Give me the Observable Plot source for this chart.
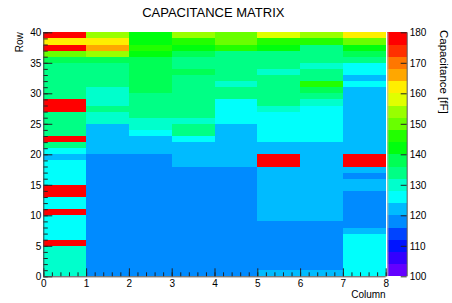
<!DOCTYPE html>
<html><head><meta charset="utf-8">
<script src="https://cdn.jsdelivr.net/npm/d3@7"></script>
<script src="https://cdn.jsdelivr.net/npm/@observablehq/plot@0.6"></script>
<style>
html,body{margin:0;padding:0;background:#fff;}
#wrap{position:relative;width:452px;height:303px;overflow:hidden;background:#fff;}
#wrap svg{position:absolute;left:0;top:0;}
</style></head><body><div id="wrap"></div>
<script>
const title = "CAPACITANCE MATRIX";
const xLabel = "Column", yLabel = "Row", zLabel = "Capacitance [fF]";
const xTicks = [0, 1, 2, 3, 4, 5, 6, 7, 8];
const yTicks = [0, 5, 10, 15, 20, 25, 30, 35, 40];
const zTicks = [100, 110, 120, 130, 140, 150, 160, 170, 180];
const zLevels = [100, 104, 108, 112, 116, 120, 124, 128, 132, 136, 140, 144, 148, 152, 156, 160, 164, 168, 172, 176, 180];

// capacitance per column, row 0 (bottom) to row 39 (top)
const col0 = [130,130,130,130,130,178,126,126,126,126,178,126,126,178,178,126,126,126,126,122,126,134,178,134,134,134,134,178,178,134,134,134,134,134,134,138,150,178,162,178];
const col1 = [118,118,118,118,118,118,118,118,118,118,118,118,118,118,118,118,118,118,118,118,122,122,122,122,122,130,130,134,130,130,130,134,134,134,134,138,154,166,162,154];
const col2 = [118,118,118,118,118,118,118,118,118,118,118,118,118,118,118,118,118,118,118,118,122,122,122,126,130,130,134,134,134,134,138,138,138,138,138,138,142,146,142,142];
const col3 = [118,118,118,118,118,118,118,118,118,118,118,118,118,118,118,118,118,118,122,122,122,122,126,134,134,130,134,134,134,134,134,134,134,138,134,134,138,142,146,154];
const col4 = [118,118,118,118,118,118,118,118,118,118,118,118,118,118,118,118,118,118,122,122,122,122,122,122,122,126,126,126,126,134,134,130,134,134,134,134,134,146,150,150];
const col5 = [122,118,118,118,118,118,118,118,118,122,122,122,122,122,122,122,122,122,178,178,122,122,126,126,126,126,126,130,134,134,134,134,134,130,134,134,134,142,146,158];
const col6 = [122,118,118,118,118,118,118,118,118,122,122,122,122,122,122,122,122,122,122,122,122,122,126,126,126,126,126,126,130,134,138,146,134,134,130,134,134,134,146,154];
const col7 = [126,126,126,126,126,126,126,122,118,118,118,118,118,118,122,122,118,122,178,178,122,122,122,122,122,122,122,122,122,122,122,126,122,126,126,134,138,142,150,162];
const columns = [col0, col1, col2, col3, col4, col5, col6, col7];

const cells = columns.flatMap((vals, c) => vals.map((v, r) => ({c, r, v})));
const bands = zLevels.slice(0, -1).map((lo, i) => ({lo, hi: zLevels[i + 1]}));

// ROOT "pretty" violet->red palette (50 colours, 20 contour levels)
const palette = d3.range(20).map(k => {
  const i = Math.floor((k + 0.99) * 50 / 20);
  const hue = 280 - (i + 1) * 5.6;
  return d3.hsl(hue, 1, 0.5).formatHex();
});
const colorScale = {type: "threshold", domain: zLevels.slice(1, -1), range: palette};

const W = 452, H = 303;
const mL = 43.3, mR = 66.3, mT = 32.3, mB = 26.7;
const FW = W - mL - mR, FH = H - mT - mB;
const font = "'Liberation Sans', Arial, Helvetica, sans-serif";
const tickColor = "#222";
const xMinor = d3.range(0, 8.001, 0.2);
const yMinor = d3.range(0, 41, 1);

const main = Plot.plot({
  width: W, height: H,
  marginLeft: mL, marginRight: mR, marginTop: mT, marginBottom: mB,
  style: {fontFamily: font, fontSize: "10px", background: "transparent", color: "#000"},
  x: {domain: [0, 8], ticks: xTicks, tickSize: 0, tickPadding: 3.5, label: null},
  y: {domain: [0, 40], ticks: yTicks, tickSize: 0, tickPadding: 2.5, label: null},
  color: colorScale,
  marks: [
    Plot.rect(cells, {x1: "c", x2: d => d.c + 1, y1: "r", y2: d => d.r + 1, fill: "v", shapeRendering: "crispEdges"}),
    Plot.ruleX(xMinor, {x: d => d, insetTop: FH - 4, stroke: tickColor}),
    Plot.ruleX(xTicks, {x: d => d, insetTop: FH - 8, stroke: tickColor}),
    Plot.ruleY(yMinor, {y: d => d, insetRight: FW - 4.5, stroke: tickColor}),
    Plot.ruleY(yTicks, {y: d => d, insetRight: FW - 9, stroke: tickColor}),
    Plot.ruleX([0], {stroke: "#444"}),
    Plot.ruleY([0], {stroke: "#444"})
  ]
});

const bL = 387.3, bR = 45.3;
const BW = W - bL - bR;
const bar = Plot.plot({
  width: W, height: H,
  marginLeft: bL, marginRight: bR, marginTop: mT, marginBottom: mB,
  style: {fontFamily: font, fontSize: "10px", background: "transparent", color: "#000"},
  x: {domain: [0, 1], axis: null},
  y: {domain: [100, 180], ticks: zTicks, tickSize: 0, tickPadding: 2.5, axis: "right", label: null},
  color: colorScale,
  marks: [
    Plot.rect(bands, {x1: 0, x2: 1, y1: "lo", y2: "hi", fill: "lo", shapeRendering: "crispEdges"}),
    Plot.ruleY(zTicks, {y: d => d, insetLeft: BW - 6, stroke: tickColor}),
    Plot.ruleX([0], {stroke: "#bbb"}),
    Plot.ruleX([1], {stroke: "#555"})
  ]
});

const wrap = document.getElementById("wrap");
wrap.appendChild(main);
wrap.appendChild(bar);

const labels = d3.create("svg").attr("width", W).attr("height", H)
  .attr("font-family", font).attr("fill", "#000");
labels.append("text").attr("x", 213.3).attr("y", 16.5).attr("text-anchor", "middle")
  .attr("font-size", 13).text(title);
labels.append("text").attr("transform", "translate(23,32.3) rotate(-90)").attr("text-anchor", "end")
  .attr("font-size", 10).text(yLabel);
labels.append("text").attr("x", 385.7).attr("y", 297.5).attr("text-anchor", "end")
  .attr("font-size", 10).text(xLabel);
labels.append("text").attr("transform", "translate(440,30) rotate(90)").attr("text-anchor", "start")
  .attr("font-size", 11.5).text(zLabel);
wrap.appendChild(labels.node());
</script></body></html>
